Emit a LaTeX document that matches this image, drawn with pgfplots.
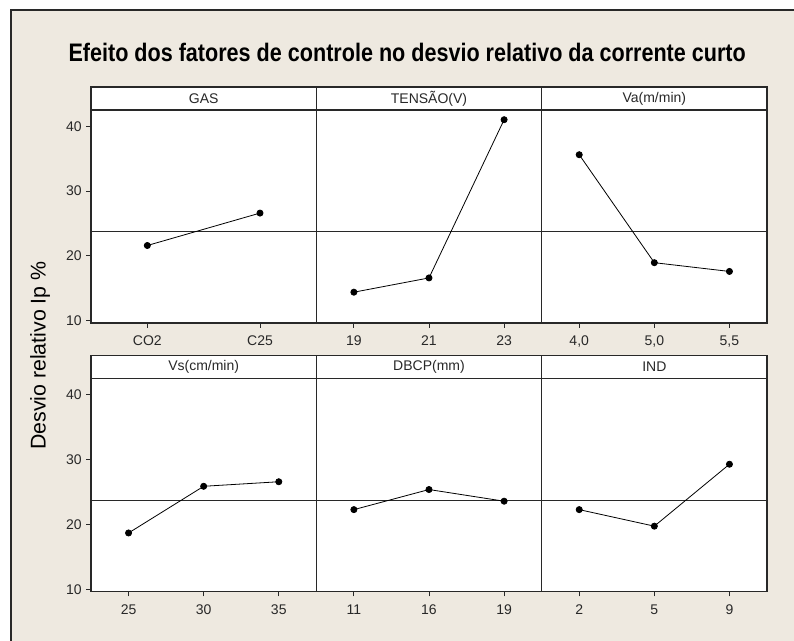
\documentclass[border=0pt]{standalone}
\usepackage{pgfplots}
\pgfplotsset{compat=1.18}
\usepackage{fontspec}
\setmainfont{Liberation Sans}
\usepackage{graphicx}
\definecolor{bg}{RGB}{238,233,224}
\definecolor{ax}{RGB}{40,40,40}

\pgfplotsset{
  panel/.style={
    scale only axis, width=169pt, height=159.75pt,
    anchor=south west,
    ymin=9.65, ymax=42.5,
    axis line style={ax, line width=0.9pt},
    axis background/.style={fill=white},
    tick align=outside, major tick length=3.5pt,
    tick style={ax, line width=0.6pt},
    xtick pos=bottom, ytick pos=left,
    ytick=\empty,
    tick label style={font=\fontsize{10.5}{12}\selectfont, text=ax},
    xticklabel style={yshift=-2.5pt, text height=7.6pt, text depth=2pt},
    /pgf/number format/assume math mode=true,
    clip=true,
  },
  leftpanel/.style={ytick={10,20,30,40}},
  two/.style={xmin=0.5, xmax=2.5, xtick={1,2}},
  three/.style={xmin=0.5, xmax=3.5, xtick={1,2,3}},
  meanline/.style={ax, line width=0.6pt},
  dataline/.style={black, line width=0.6pt, mark=*, mark size=2.3pt, mark options={solid, fill=black}},
}
\newcommand\strip[2]{%
  \draw[ax, line width=0.9pt, fill=white] (#1.north west) rectangle ([yshift=17.25pt]#1.north east);
  \node[font=\fontsize{10.5}{12}\selectfont, text=ax] at ([yshift=8.6pt]#1.north) {#2};
}

\begin{document}
\begin{tikzpicture}
\useasboundingbox (0,0) rectangle (595.5pt,480.75pt);
\fill[white] (0,0) rectangle (595.5pt,480.75pt);
\fill[bg] (8.25pt,0) rectangle (595.5pt,473.25pt);
\draw[ax, line width=0.8pt] (8.25pt,0) -- (8.25pt,473.25pt) -- (595.5pt,473.25pt);

\node[anchor=base west, inner sep=0pt] at (51.2pt,434.5pt)
  {\resizebox{508pt}{\height}{\fontsize{19}{22}\selectfont\bfseries Efeito dos fatores de controle no desvio relativo da corrente curto}};

\node[rotate=90, font=\fontsize{16}{19}\selectfont, text=black] at (30pt,214pt) {Desvio relativo Ip \%};

% Row 1
\begin{axis}[panel, leftpanel, two, name=p1, at={(68.25pt,238.5pt)},
  xticklabels={CO2, C25}]
  \addplot[meanline] coordinates {(0.5,23.8) (2.5,23.8)};
  \addplot[dataline] coordinates {(1,21.6) (2,26.6)};
\end{axis}
\strip{p1}{GAS}

\begin{axis}[panel, three, name=p2, at={(237.25pt,238.5pt)},
  xticklabels={19, 21, 23}]
  \addplot[meanline] coordinates {(0.5,23.8) (3.5,23.8)};
  \addplot[dataline] coordinates {(1,14.4) (2,16.6) (3,41.0)};
\end{axis}
\strip{p2}{TENSÃO(V)}

\begin{axis}[panel, three, name=p3, at={(406.25pt,238.5pt)},
  xticklabels={{4,0}, {5,0}, {5,5}}]
  \addplot[meanline] coordinates {(0.5,23.8) (3.5,23.8)};
  \addplot[dataline] coordinates {(1,35.6) (2,18.95) (3,17.6)};
\end{axis}
\strip{p3}{Va(m/min)}

% Row 2
\begin{axis}[panel, leftpanel, three, name=p4, at={(68.25pt,37pt)},
  xticklabels={25, 30, 35}]
  \addplot[meanline] coordinates {(0.5,23.8) (3.5,23.8)};
  \addplot[dataline] coordinates {(1,18.7) (2,25.9) (3,26.6)};
\end{axis}
\strip{p4}{Vs(cm/min)}

\begin{axis}[panel, three, name=p5, at={(237.25pt,37pt)},
  xticklabels={11, 16, 19}]
  \addplot[meanline] coordinates {(0.5,23.8) (3.5,23.8)};
  \addplot[dataline] coordinates {(1,22.3) (2,25.4) (3,23.6)};
\end{axis}
\strip{p5}{DBCP(mm)}

\begin{axis}[panel, three, name=p6, at={(406.25pt,37pt)},
  xticklabels={2, 5, 9}]
  \addplot[meanline] coordinates {(0.5,23.8) (3.5,23.8)};
  \addplot[dataline] coordinates {(1,22.3) (2,19.75) (3,29.3)};
\end{axis}
\strip{p6}{IND}
\end{tikzpicture}
\end{document}
